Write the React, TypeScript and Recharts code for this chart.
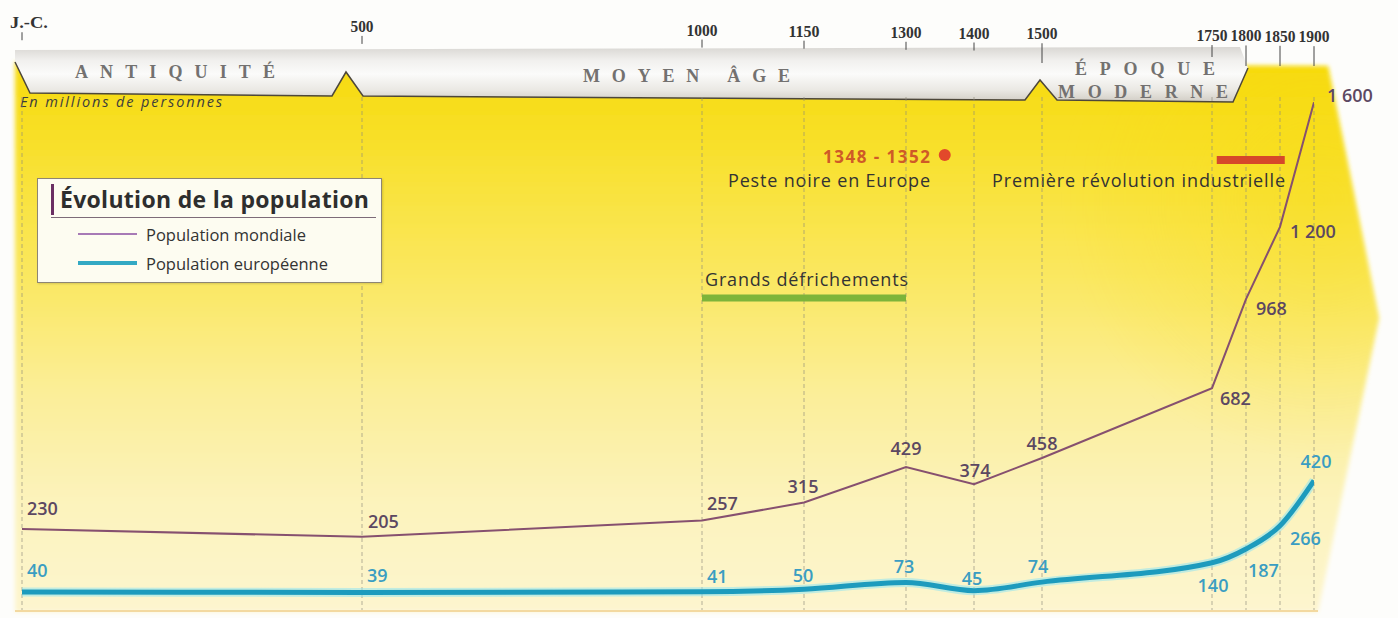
import {
  CartesianGrid,
  LabelList,
  Legend,
  Line,
  LineChart,
  ReferenceDot,
  ReferenceLine,
  XAxis,
  YAxis,
} from "recharts";

// population in millions
const years = [0, 500, 1000, 1150, 1300, 1400, 1500, 1750, 1800, 1850, 1900];
const worldPopulation = [230, 205, 257, 315, 429, 374, 458, 682, 968, 1200, 1600];
const europePopulation = [40, 39, 41, 50, 73, 45, 74, 140, 187, 266, 420];

const eras = ["ANTIQUITÉ", "MOYEN ÂGE", "ÉPOQUE", "MODERNE"];
const periods = [
  { name: "Grands défrichements", from: 1000, to: 1300 },
  { name: "Première révolution industrielle", from: 1757, to: 1857 },
];
const plague = { label: "1348 - 1352", name: "Peste noire en Europe", year: 1357 };

const data = years.map((year, i) => ({
  year,
  world: worldPopulation[i],
  europe: europePopulation[i],
}));

const SANS = '"Open Sans", "Noto Sans", sans-serif';
const SERIF = '"Liberation Serif", "DejaVu Serif", serif';

// label placement [dx, dy, anchor] per point
const worldLabelPos: [number, number, string][] = [
  [5, -14, "start"], [6, -9, "start"], [5, -11, "start"], [-1, -10, "middle"],
  [0, -12, "middle"], [1, -7, "middle"], [0, -8, "middle"], [8, 17, "start"],
  [10, 16, "start"], [10, 11, "start"], [13, 0, "start"],
];
const europeLabelPos: [number, number, string][] = [
  [5, -15, "start"], [5, -10, "start"], [5, -9, "start"], [-1, -7, "middle"],
  [-2, -9, "middle"], [-2, -6, "middle"], [-4, -9, "middle"], [1, 29, "middle"],
  [2, 28, "start"], [10, 19, "start"], [2, -13, "middle"],
];

const frNumber = (v: number) =>
  v >= 1000 ? `${Math.floor(v / 1000)} ${String(v % 1000).padStart(3, "0")}` : String(v);

const makeLabel = (pos: [number, number, string][], color: string) => (props: any) => {
  const { x, y, value, index } = props;
  const [dx, dy, anchor] = pos[index] ?? [0, -8, "middle"];
  return (
    <text
      x={x + dx}
      y={y + dy}
      textAnchor={anchor as any}
      fill={color}
      fontSize={18}
      fontWeight={600}
      fontFamily={SANS}
    >
      {frNumber(Number(value))}
    </text>
  );
};

const YearTick = (props: any) => {
  const { x, payload } = props;
  const v = payload.value as number;
  const label = v === 0 ? "J.-C." : String(v);
  // the scan is slightly tilted, labels drift down to the right
  const base = 28 + x * 0.0108;
  const bottom = v >= 1800 ? 66 : v === 1750 ? 57 : v === 1500 ? 63 : base + 12;
  const width = v === 0 ? 38 : label.length === 4 ? 31 : 23;
  return (
    <g>
      <text
        x={v === 0 ? x + 7 - width / 2 : x - width / 2}
        y={base}
        fontFamily={SERIF}
        fontWeight={700}
        fontSize={17}
        fill="#333"
        textLength={width}
        lengthAdjust="spacingAndGlyphs"
      >
        {label}
      </text>
      <line x1={x} x2={x} y1={base + 4} y2={bottom} stroke="#444" strokeWidth={1} />
    </g>
  );
};

const renderLegend = (props: any) => {
  const seen = new Set<string>();
  const items = (props.payload || [])
    .filter((p: any) => p.type !== "none" && p.value !== p.dataKey)
    .filter((p: any) => (seen.has(p.dataKey) ? false : (seen.add(p.dataKey), true)))
    .sort((a: any) => (a.dataKey === "world" ? -1 : 1));
  return (
    <div
      style={{
        width: 345,
        height: 105,
        boxSizing: "border-box",
        border: "1px solid #8d8574",
        background: "#fdfcf1",
        boxShadow: "1px 1px 2px rgba(0,0,0,0.15)",
        position: "relative",
        fontFamily: SANS,
      }}
    >
      <div
        style={{
          position: "absolute",
          left: 13,
          top: 5,
          width: 325,
          height: 34,
          borderBottom: "1px solid #7d6b78",
          boxSizing: "border-box",
        }}
      >
        <div
          style={{
            borderLeft: "3px solid #6b2f63",
            paddingLeft: 6,
            fontWeight: 700,
            fontSize: 23,
            lineHeight: "31px",
            color: "#2e2e2e",
            whiteSpace: "nowrap",
            letterSpacing: 0.3,
          }}
        >
          Évolution de la population
        </div>
      </div>
      {items.map((p: any, i: number) => (
        <div
          key={p.dataKey}
          style={{
            position: "absolute",
            left: 40,
            top: 44 + i * 29,
            height: 22,
            display: "flex",
            alignItems: "center",
          }}
        >
          <span
            style={{
              display: "inline-block",
              width: 59,
              height: p.dataKey === "world" ? 2 : 4,
              background: p.dataKey === "world" ? "#a77ab6" : "#33a9c4",
              marginRight: 9,
            }}
          />
          <span style={{ fontSize: 16.5, color: "#333" }}>{p.value}</span>
        </div>
      ))}
    </div>
  );
};

export default function App() {
  return (
    <div style={{ position: "absolute", left: 0, top: 0, width: 1398, height: 618, background: "#fdfdfb" }}>
      <svg width={1398} height={618} style={{ position: "absolute", left: 0, top: 0 }}>
        <defs>
          <linearGradient id="paper" x1="0" y1="62" x2="0" y2="612" gradientUnits="userSpaceOnUse">
            <stop offset="0" stopColor="#f7da0e" />
            <stop offset="0.12" stopColor="#f8df24" />
            <stop offset="0.38" stopColor="#fae75e" />
            <stop offset="0.6" stopColor="#fbee98" />
            <stop offset="0.8" stopColor="#fcf3bc" />
            <stop offset="1" stopColor="#fdf5cf" />
          </linearGradient>
          <radialGradient id="rightGlow" cx="1320" cy="200" r="260" gradientUnits="userSpaceOnUse">
            <stop offset="0" stopColor="#f6d800" stopOpacity="0.35" />
            <stop offset="1" stopColor="#f6d800" stopOpacity="0" />
          </radialGradient>
          <linearGradient id="ribbon" x1="0" y1="47" x2="0" y2="101" gradientUnits="userSpaceOnUse">
            <stop offset="0" stopColor="#d9d7d3" />
            <stop offset="0.25" stopColor="#f1f0ee" />
            <stop offset="0.5" stopColor="#fbfbfa" />
            <stop offset="0.8" stopColor="#eae8e3" />
            <stop offset="1" stopColor="#d3cfc7" />
          </linearGradient>
          <filter id="soft" x="-5%" y="-5%" width="110%" height="110%">
            <feGaussianBlur stdDeviation="2" />
          </filter>
        </defs>
        <polygon points="15,62 1328,66 1379,318 1318,612 15,612" fill="url(#paper)" filter="url(#soft)" />
        <polygon points="1000,64 1328,66 1379,318 1318,612 1000,612" fill="url(#rightGlow)" filter="url(#soft)" />
        <line x1={15} x2={1318} y1={611} y2={611} stroke="#f3d9a0" strokeWidth={2} />

        <polygon
          points="15,50 1240,47 1248,68 1233,102 1057,100 1040,80 1025,100 363,96 346,72 332,96 30,93 15,62"
          fill="url(#ribbon)"
        />
        <polyline
          points="15,62 30,93 332,96 346,72 363,96 1025,100 1040,80 1057,100 1233,102 1248,68"
          fill="none"
          stroke="#4d473a"
          strokeWidth={1.5}
        />
        <g fontFamily={SERIF} fontSize={18} fontWeight={700} fill="#737170">
          <text x={75} y={78} textLength={200} lengthAdjust="spacing">{eras[0]}</text>
          <text x={583} y={82} textLength={207} lengthAdjust="spacing">{eras[1]}</text>
          <text x={1075} y={75} textLength={140} lengthAdjust="spacing">{eras[2]}</text>
          <text x={1058} y={98} textLength={170} lengthAdjust="spacing">{eras[3]}</text>
        </g>

        <text x={20} y={107} fontFamily={SANS} fontStyle="italic" fontSize={14.5} fill="#3c3c3c" textLength={202}>
          En millions de personnes
        </text>
        <text x={823} y={163} fontFamily={SANS} fontWeight={700} fontSize={17} fill="#cf5a27" textLength={107}>
          {plague.label}
        </text>
        <g fontFamily={SANS} fontSize={18} fill="#333">
          <text x={728} y={187} textLength={202}>{plague.name}</text>
          <text x={992} y={187} textLength={293}>{periods[1].name}</text>
          <text x={705} y={286} textLength={203}>{periods[0].name}</text>
        </g>
      </svg>

      <div style={{ position: "absolute", left: 0, top: 0 }}>
        <LineChart width={1398} height={618} data={data} margin={{ top: 0, right: 84, bottom: 8, left: 22 }}>
          <XAxis
            dataKey="year"
            type="number"
            orientation="top"
            domain={[0, 1900]}
            ticks={years}
            interval={0}
            tick={<YearTick />}
            tickLine={false}
            axisLine={false}
            height={97}
            allowDataOverflow
          />
          <YAxis yAxisId="world" hide domain={[-30, 1617]} allowDataOverflow />
          <YAxis yAxisId="europe" hide domain={[-21, 1727]} allowDataOverflow />
          <CartesianGrid
            yAxisId="world"
            horizontal={false}
            stroke="#8f8b7c"
            strokeOpacity={0.65}
            strokeDasharray="4 3"
          />
          <ReferenceLine
            yAxisId="world"
            segment={[
              { x: periods[0].from, y: 972 },
              { x: periods[0].to, y: 972 },
            ]}
            stroke="#7db43a"
            strokeWidth={7}
            ifOverflow="visible"
          />
          <ReferenceLine
            yAxisId="world"
            segment={[
              { x: periods[1].from, y: 1415 },
              { x: periods[1].to, y: 1415 },
            ]}
            stroke="#d6482a"
            strokeWidth={8}
            ifOverflow="visible"
          />
          <ReferenceDot
            yAxisId="world"
            x={plague.year}
            y={1431}
            r={6}
            fill="#e2492b"
            stroke="none"
            ifOverflow="visible"
          />
          <Legend
            content={renderLegend}
            layout="horizontal"
            verticalAlign="middle"
            align="center"
            wrapperStyle={{ position: "absolute", left: 37, top: 178, width: 345, height: 105 }}
          />
          <Line
            yAxisId="europe"
            dataKey="europe"
            type="monotone"
            stroke="#8fe3f2"
            strokeWidth={9}
            strokeOpacity={0.55}
            dot={false}
            activeDot={false}
            legendType="none"
            isAnimationActive={false}
          />
          <Line
            yAxisId="europe"
            dataKey="europe"
            name="Population européenne"
            type="monotone"
            stroke="#1d9bbd"
            strokeWidth={5}
            dot={false}
            activeDot={false}
            isAnimationActive={false}
          >
            <LabelList dataKey="europe" content={makeLabel(europeLabelPos, "#3a9dc2")} />
          </Line>
          <Line
            yAxisId="world"
            dataKey="world"
            name="Population mondiale"
            type="linear"
            stroke="#86506f"
            strokeWidth={2}
            dot={false}
            activeDot={false}
            isAnimationActive={false}
          >
            <LabelList dataKey="world" content={makeLabel(worldLabelPos, "#5c4862")} />
          </Line>
        </LineChart>
      </div>
    </div>
  );
}
